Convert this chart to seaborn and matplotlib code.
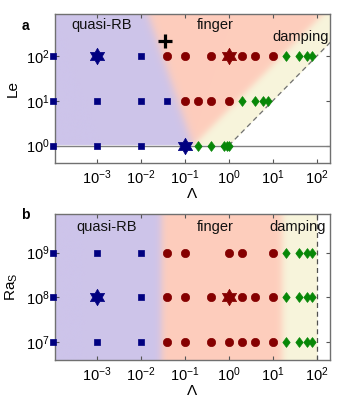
import numpy as np
import pandas as pd
import matplotlib
matplotlib.use("Agg")
import matplotlib.pyplot as plt
from matplotlib.path import Path
import seaborn as sns

sns.set_theme(style="white")
plt.rcParams['font.family'] = ['Liberation Sans', 'DejaVu Sans']
plt.rcParams['mathtext.fontset'] = 'custom'
plt.rcParams['mathtext.rm'] = 'Liberation Sans'
plt.rcParams['mathtext.it'] = 'Liberation Sans:italic'
plt.rcParams['text.color'] = 'black'
plt.rcParams['axes.labelcolor'] = 'black'

# ---------------- data: panel a (Lambda vs Le) ----------------
a_rb_x = [1e-4, 1e-2, 1e-4, 1e-3, 1e-2, 0.04, 1e-4, 1e-3, 1e-2]
a_rb_y = [100, 100, 10, 10, 10, 10, 1, 1, 1]
a_rb_star_x = [1e-3, 0.1]
a_rb_star_y = [100, 1]
a_fi_x = [0.04, 0.1, 0.4, 2, 4, 10, 0.1, 0.2, 0.4, 1]
a_fi_y = [100, 100, 100, 100, 100, 100, 10, 10, 10, 10]
a_fi_star_x = [1]
a_fi_star_y = [100]
a_da_x = [20, 40, 60, 80, 2, 4, 6, 8, 0.2, 0.4, 0.8, 0.9, 1]
a_da_y = [100, 100, 100, 100, 10, 10, 10, 10, 1, 1, 1, 1, 1]
a_plus_x = [0.035]
a_plus_y = [220]

# ---------------- data: panel b (Lambda vs Ra_S) ----------------
b_rb_x = [1e-4, 1e-3, 1e-2, 1e-4, 1e-2, 1e-4, 1e-3, 1e-2]
b_rb_y = [1e9, 1e9, 1e9, 1e8, 1e8, 1e7, 1e7, 1e7]
b_rb_star_x = [1e-3]
b_rb_star_y = [1e8]
b_fi_x = [0.04, 0.1, 1, 2, 10,
          0.04, 0.1, 0.4, 2, 4, 10,
          0.04, 0.1, 0.4, 1, 2, 4, 10]
b_fi_y = [1e9] * 5 + [1e8] * 6 + [1e7] * 7
b_fi_star_x = [1]
b_fi_star_y = [1e8]
b_da_x = [20, 40, 60, 80] * 3
b_da_y = [1e9] * 4 + [1e8] * 4 + [1e7] * 4

xticks = [1e-3, 1e-2, 1e-1, 1e0, 1e1, 1e2]
a_yticks = [1, 10, 100]
b_yticks = [1e7, 1e8, 1e9]

# ---------------- style ----------------
C_BLUE = '#000080'
C_RED = '#850000'
C_GREEN = '#078707'
BG_PURPLE = np.array([205, 196, 234]) / 255
BG_PEACH = np.array([254, 205, 188]) / 255
BG_BEIGE = np.array([247, 245, 220]) / 255
WHITE = np.array([1.0, 1.0, 1.0])

# hexagram marker
ang_o = np.deg2rad(90 + np.arange(6) * 60)
ang_i = ang_o + np.deg2rad(30)
r_i = 1 / np.sqrt(3)
verts = []
for ao, ai in zip(ang_o, ang_i):
    verts.append((np.cos(ao), np.sin(ao)))
    verts.append((r_i * np.cos(ai), r_i * np.sin(ai)))
verts.append(verts[0])
HEX = Path(verts, [Path.MOVETO] + [Path.LINETO] * 11 + [Path.CLOSEPOLY])
# slim diamond
DIA = Path([(0, 1), (0.75, 0), (0, -1), (-0.75, 0), (0, 1)],
           [Path.MOVETO, Path.LINETO, Path.LINETO, Path.LINETO, Path.CLOSEPOLY])

fig = plt.figure(figsize=(3.43, 4.04), dpi=100)
ax_a = fig.add_axes([0.160, 0.5965, 0.802, 0.3688])
ax_b = fig.add_axes([0.160, 0.1089, 0.802, 0.3614])

XLIM = (10 ** -3.95, 10 ** 2.3)
A_YLIM = (10 ** -0.39, 10 ** 2.94)
B_YLIM = (10 ** 6.6, 10 ** 9.86)


def sig(z):
    return 1 / (1 + np.exp(-z))


def background(ax, ylim, kind):
    nx, ny = 600, 300
    u = np.linspace(0, 1, nx)
    v = np.linspace(0, 1, ny)
    U, V = np.meshgrid(u, v)
    X = np.log10(XLIM[0]) + U * (np.log10(XLIM[1]) - np.log10(XLIM[0]))
    Y = np.log10(ylim[0]) + V * (np.log10(ylim[1]) - np.log10(ylim[0]))
    if kind == 'a':
        xb1 = -0.83 - 0.344 * Y
        xb2 = -0.82 + Y
        mask = (Y >= 0) & (X <= Y)
        s = 0.06
    else:
        xb1 = -1.54 + 0 * Y
        xb2 = 1.2 + 0 * Y
        mask = X <= 2.0
        s = 0.05
    p = sig((xb1 - X) / s)[..., None]
    q = sig((X - xb2) / s)[..., None]
    col = p * BG_PURPLE + (1 - p) * ((1 - q) * BG_PEACH + q * BG_BEIGE)
    col = np.where(mask[..., None], col, WHITE)
    ax.imshow(col, extent=(0, 1, 0, 1), transform=ax.transAxes, origin='lower',
              aspect='auto', zorder=0, interpolation='bilinear')


def points(ax, xs, ys, marker, size, color, lw=0.5):
    df = pd.DataFrame({'x': xs, 'y': ys})
    sns.scatterplot(data=df, x='x', y='y', marker=marker, s=size, color=color,
                    edgecolor=color, linewidth=lw, ax=ax, zorder=5,
                    clip_on=False, legend=False)


def style(ax, ylim, yticks, ylabel):
    ax.set_xscale('log')
    ax.set_yscale('log')
    ax.set_xlim(*XLIM)
    ax.set_ylim(*ylim)
    ax.set_xticks(xticks)
    ax.set_yticks(yticks)
    ax.minorticks_off()
    ax.tick_params(direction='in', length=3, width=0.8, color='#555555',
                   top=True, right=True, bottom=True, left=True,
                   labelsize=10.5, pad=4, labelcolor='black')
    for sp in ax.spines.values():
        sp.set_color('#707070')
        sp.set_linewidth(1.0)
    ax.set_xlabel('Λ', fontsize=11, labelpad=0, color='black')
    ax.set_ylabel(ylabel, fontsize=11, labelpad=4, color='black')


for ax, ylim, kind in [(ax_a, A_YLIM, 'a'), (ax_b, B_YLIM, 'b')]:
    ax.set_xscale('log')
    ax.set_yscale('log')
    ax.set_xlim(*XLIM)
    ax.set_ylim(*ylim)
    background(ax, ylim, kind)

# panel a lines
ax_a.axhline(1, color='#808080', lw=1.0, zorder=2)
ax_a.plot([1, 10 ** 2.94], [1, 10 ** 2.94], color='#707070', lw=0.9,
          ls=(0, (4, 3)), zorder=2)
# panel b line
ax_b.axvline(100, color='#505050', lw=0.9, ls=(0, (4, 3)), zorder=2)

points(ax_a, a_rb_x, a_rb_y, 's', 24, C_BLUE)
points(ax_a, a_rb_star_x, a_rb_star_y, HEX, 140, C_BLUE)
points(ax_a, a_fi_x, a_fi_y, 'o', 36, C_RED)
points(ax_a, a_fi_star_x, a_fi_star_y, HEX, 140, C_RED)
points(ax_a, a_da_x, a_da_y, DIA, 50, C_GREEN)
points(ax_a, a_plus_x, a_plus_y, '+', 110, 'black', lw=2.3)

points(ax_b, b_rb_x, b_rb_y, 's', 24, C_BLUE)
points(ax_b, b_rb_star_x, b_rb_star_y, HEX, 140, C_BLUE)
points(ax_b, b_fi_x, b_fi_y, 'o', 36, C_RED)
points(ax_b, b_fi_star_x, b_fi_star_y, HEX, 140, C_RED)
points(ax_b, b_da_x, b_da_y, DIA, 50, C_GREEN)

style(ax_a, A_YLIM, a_yticks, 'Le')
style(ax_b, B_YLIM, b_yticks, 'Ra$_\\mathrm{S}$')

tk = dict(fontsize=10.5, color='#111111', zorder=6)
ax_a.text(0.171, 0.926, 'quasi-RB', transform=ax_a.transAxes, ha='center', va='center', **tk)
ax_a.text(0.582, 0.926, 'finger', transform=ax_a.transAxes, ha='center', va='center', **tk)
ax_a.text(0.996, 0.846, 'damping', transform=ax_a.transAxes, ha='right', va='center', **tk)
ax_b.text(0.189, 0.911, 'quasi-RB', transform=ax_b.transAxes, ha='center', va='center', **tk)
ax_b.text(0.582, 0.911, 'finger', transform=ax_b.transAxes, ha='center', va='center', **tk)
ax_b.text(0.985, 0.911, 'damping', transform=ax_b.transAxes, ha='right', va='center', **tk)

fig.text(0.073, 0.936, 'a', fontsize=10, fontweight='bold', ha='center', va='center')
fig.text(0.073, 0.468, 'b', fontsize=10, fontweight='bold', ha='center', va='center')

fig.savefig('out.png', dpi=100)
